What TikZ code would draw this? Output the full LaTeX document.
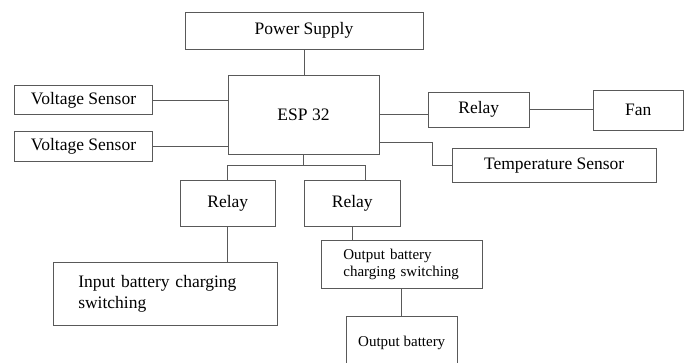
\documentclass[tikz,border=0pt]{standalone}
\usepackage{fontspec}
\setmainfont{Liberation Serif}
\begin{document}
\begin{tikzpicture}[x=1pt,y=-1pt,
  blk/.style={draw=black!65, line width=0.9pt, rectangle, inner sep=0pt, text=black,
    font=\fontsize{17.5}{21}\selectfont},
  small/.style={font=\fontsize{15}{17.6}\selectfont},
  wire/.style={draw=black!65, line width=0.9pt}]
\useasboundingbox (0,0) rectangle (690,363);
\clip (0,0) rectangle (690,363);
\fill[white] (0,0) rectangle (690,363);
\node[blk, minimum width=238pt, minimum height=37pt] (ps) at (304,30.5) {Power Supply};
\node[blk, minimum width=151pt, minimum height=79pt] (esp) at (303.5,114.5) {ESP 32};
\node[blk, minimum width=138.4pt, minimum height=29.3pt] (vs1) at (83.5,100.3) {Voltage Sensor};
\node[blk, minimum width=138.4pt, minimum height=29.6pt] (vs2) at (83.5,146.5) {Voltage Sensor};
\node[blk, minimum width=101pt, minimum height=35pt] (rr) at (478.8,109.8) {Relay};
\node[blk, minimum width=90pt, minimum height=40pt] (fan) at (638.3,110) {Fan};
\node[blk, minimum width=203.7pt, minimum height=34.4pt] (temp) at (554.2,165.5) {Temperature Sensor};
\node[blk, minimum width=95pt, minimum height=45.3pt] (rl) at (227.8,203.4) {Relay};
\node[blk, minimum width=95.3pt, minimum height=45.3pt] (rb) at (352.3,203.4) {Relay};
\node[blk, minimum width=224.4pt, minimum height=62.3pt, inner xsep=25pt, text width=174.4pt, align=left] (inb) at (165.5,293.9) {Input battery charging\\switching};
\node[blk, small, minimum width=161.7pt, minimum height=47.6pt, inner xsep=22.3pt, text width=117pt, align=left] (outc) at (401.9,264.5) {Output battery\\charging switching};
\node[blk, small, minimum width=111.3pt, minimum height=54pt] (outb) at (401.7,343) {Output battery};
\coordinate (j) at (365,165);
\coordinate (t) at (432,142);
\draw[wire] (ps.south) -- (ps.south |- esp.north);
\draw[wire] (vs1.east) -- (vs1.east -| esp.west);
\draw[wire] (vs2.east) -- (vs2.east -| esp.west);
\draw[wire] (esp.east) -- (esp.east -| rr.west);
\draw[wire] (rr.east) -- (rr.east -| fan.west);
\draw[wire] (esp.east |- t) -- (t) |- (temp.west);
\draw[wire] (esp.south) -- (esp.south |- j);
\draw[wire] (rl.north) |- (j) -- (j |- rb.north);
\draw[wire] (rl.south) -- (rl.south |- inb.north);
\draw[wire] (rb.south) -- (rb.south |- outc.north);
\draw[wire] (outc.south) -- (outc.south |- outb.north);
\end{tikzpicture}
\end{document}
